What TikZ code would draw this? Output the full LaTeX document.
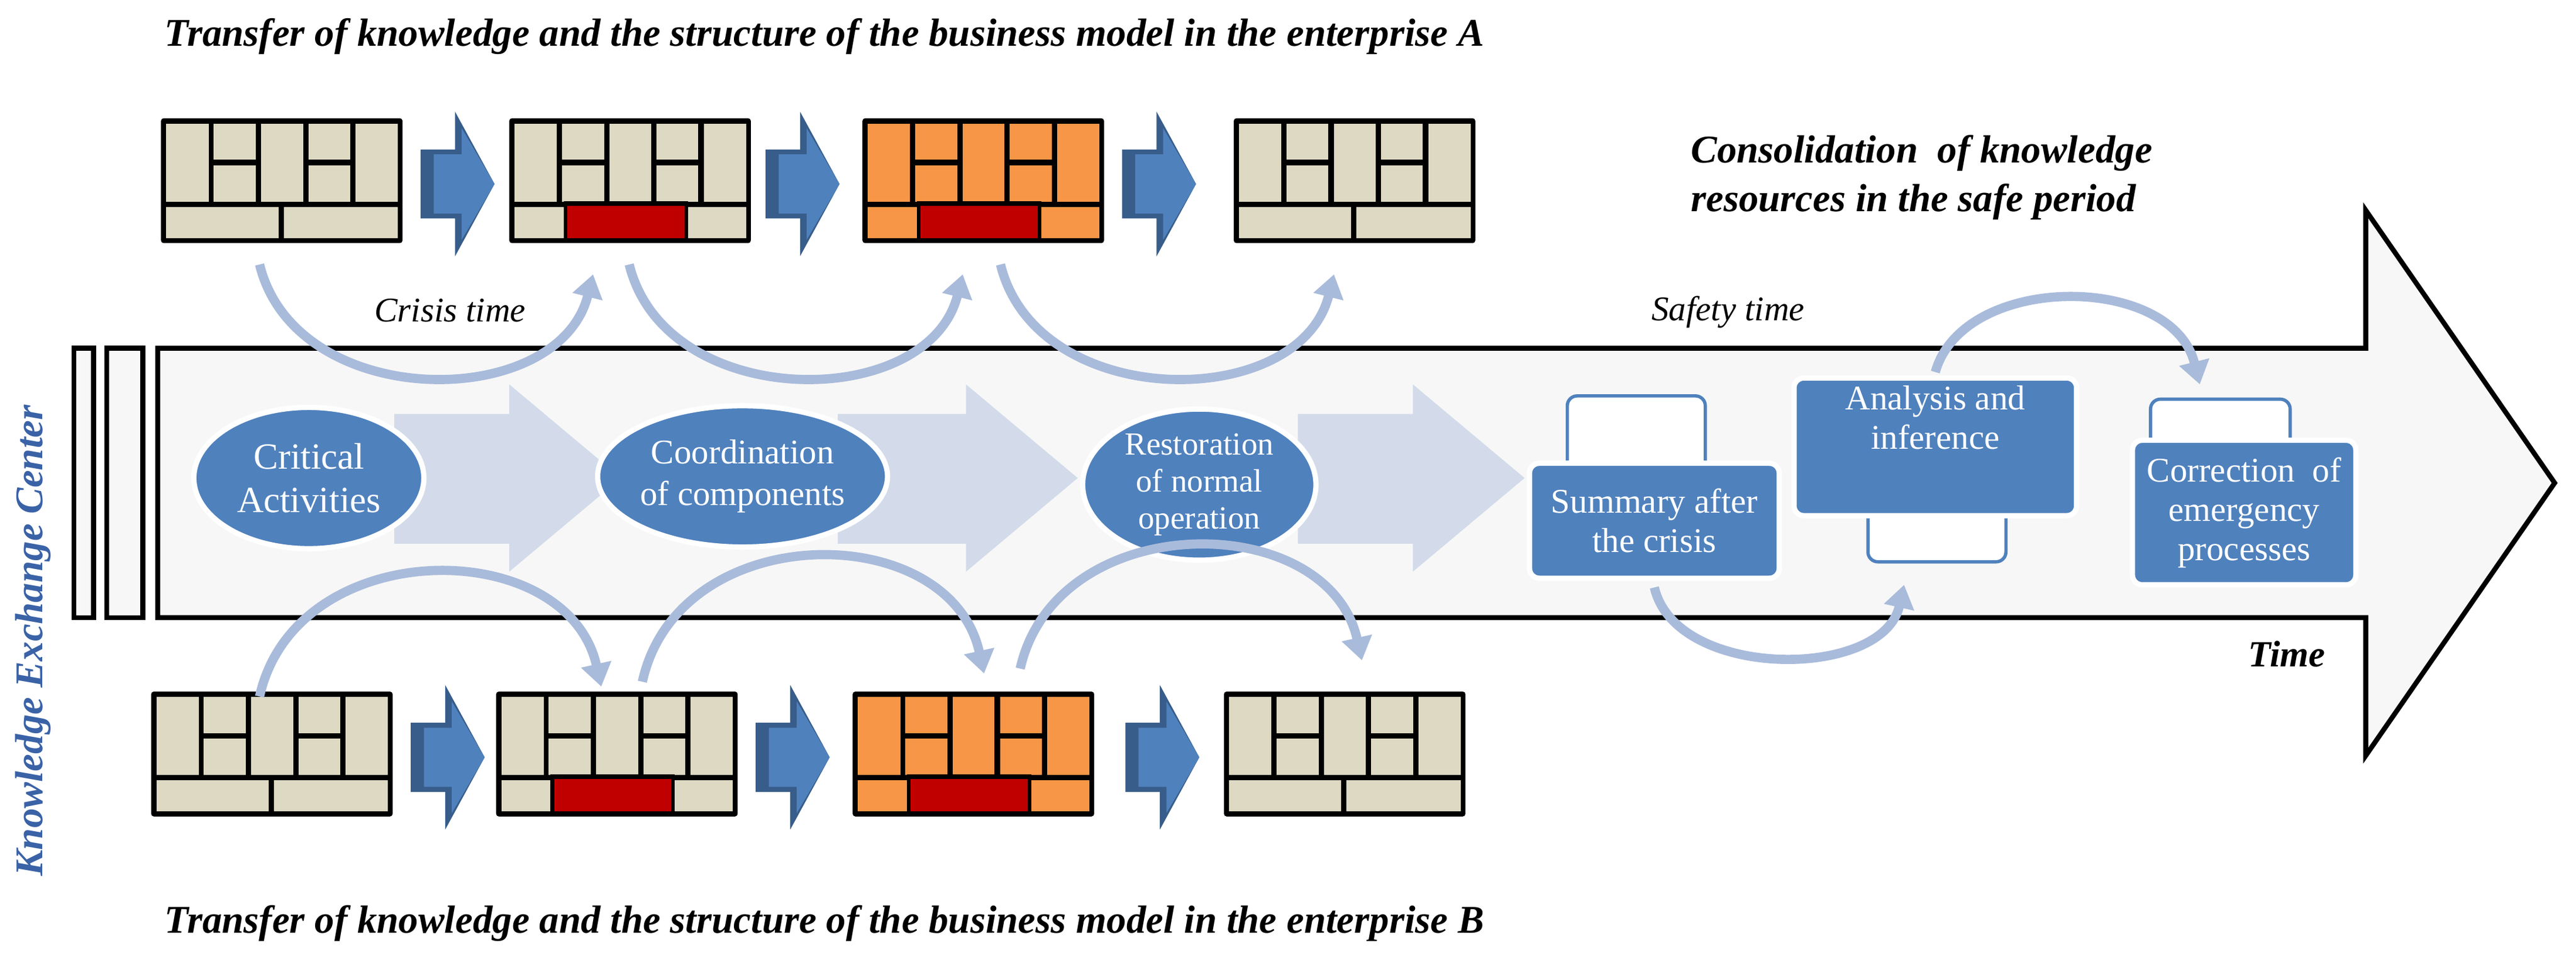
\documentclass[tikz,border=0pt]{standalone}
\usepackage{fontspec}
\setmainfont{Liberation Serif}
\usetikzlibrary{arrows.meta,shapes.geometric}
\definecolor{beige}{HTML}{DDD9C3}
\definecolor{orng}{HTML}{F79646}
\definecolor{redb}{HTML}{C00000}
\definecolor{mblue}{HTML}{4F81BD}
\definecolor{dblue}{HTML}{385D8A}
\definecolor{chev}{HTML}{D3DBEA}
\definecolor{arcc}{HTML}{A9BBDB}
\definecolor{kec}{HTML}{3A62A6}
\newcommand\bmcanvas[5]{%
 \begin{scope}[shift={(#1,#2)},x=36.75mm,y=-19mm]
  \fill[black,rounded corners=0.4mm] (0,0) rectangle (1,1);
  \foreach \a/\b/\c/\d in {0.022/0.042/0.197/0.667, 0.218/0.042/0.392/0.333, 0.218/0.377/0.392/0.667,
     0.414/0.042/0.588/0.667, 0.610/0.042/0.783/0.333, 0.610/0.377/0.783/0.667, 0.805/0.042/0.980/0.667,
     0.022/0.711/0.486/0.961, 0.508/0.711/0.980/0.961}
   \fill[#3] (\a,\b) rectangle (\c,\d);
  \ifnum#4=1
   \fill[black] (0.225,0.665) rectangle (0.74,0.975);
   \fill[redb] (0.24,0.70) rectangle (0.725,0.96);
  \fi
  \coordinate (#5) at (0.5,0.5);
 \end{scope}}
\newcommand\blockarrow[2]{%
 \fill[dblue] (#1,#2-21) -- (#1+21,#2-21) -- (#1+21,#2-44) -- (#1+45,#2) -- (#1+21,#2+44) -- (#1+21,#2+21) -- (#1,#2+21) -- cycle;
 \fill[mblue] (#1+8,#2-18) -- (#1+25,#2-18) -- (#1+25,#2-34) -- (#1+45,#2) -- (#1+25,#2+34) -- (#1+25,#2+18) -- (#1+8,#2+18) -- cycle;}
\newcommand\chevron[4]{% bodystart headstart tip name
 \fill[chev] (#1,252) -- (#2,252) -- (#2,234) -- (#3,291) -- (#2,348) -- (#2,331) -- (#1,331) -- cycle;
 \coordinate (#4) at (#3,291);}
\begin{document}
\begin{tikzpicture}[x=0.25mm,y=-0.25mm,
  ttl/.style={font=\fontsize{17}{20}\selectfont\bfseries\itshape,anchor=west,inner sep=0},
  ell/.style={ellipse,fill=mblue,draw=white,line width=0.8mm,text=white,align=center,inner sep=0},
  box/.style={rounded corners=1.5mm,fill=mblue,draw=white,line width=0.8mm,text=white,align=center,font=\fontsize{15}{17}\selectfont},
  frm/.style={rounded corners=1.5mm,fill=white,draw=mblue,line width=0.5mm},
  arc/.style={draw=arcc,line width=1.4mm,-{Triangle[length=3.5mm,width=4.5mm]}}]
\useasboundingbox (0,0) rectangle (1568,581);
% titles
\node[ttl] (tA) at (100,22) {Transfer of knowledge and the structure of the business model in the enterprise A};
\node[ttl] (tB) at (100,582-20) {Transfer of knowledge and the structure of the business model in the enterprise B};
\node[font=\fontsize{17}{21}\selectfont\bfseries\itshape,align=left,anchor=west,inner sep=0] (cons) at (1029,108) {Consolidation\ \ of knowledge\\resources in the safe period};
\node[rotate=90,font=\fontsize{17}{20}\selectfont\bfseries\itshape,text=kec,inner sep=0] (kec) at (20,390) {Knowledge Exchange Center};
% big arrow
\draw[line width=0.75mm,fill=white!97!black] (45,212) rectangle (57,376);
\draw[line width=0.75mm,fill=white!97!black] (65,212) rectangle (87,376);
\draw[line width=0.75mm,fill=white!97!black,line join=miter] (96,212) -- (1440,212) -- (1440,128) -- (1555,294) -- (1440,460) -- (1440,376) -- (96,376) -- cycle;
\node[font=\fontsize{15}{18}\selectfont\itshape,inner sep=0] (crisis) at (274,189) {Crisis time};
\node[font=\fontsize{15}{18}\selectfont\itshape,inner sep=0,anchor=west] (safety) at (1005,190) {Safety time};
\node[font=\fontsize{16}{18}\selectfont\bfseries\itshape,inner sep=0] (time) at (1392,398) {Time};
% chevrons
\chevron{240}{310}{378}{ch1}
\chevron{510}{588}{656}{ch2}
\chevron{790}{860}{928}{ch3}
\node[ell,minimum width=140\pgflinewidth/0.8,minimum width=35mm,minimum height=21.5mm,font=\fontsize{16}{19}\selectfont] (crit) at (188,291) {Critical\\Activities};
\node[ell,minimum width=37.5mm,minimum height=21.5mm,font=\fontsize{15}{18}\selectfont] (coord) at (452,290) {Coordination\\of components};
\node[ell,minimum width=35.5mm,minimum height=23mm,font=\fontsize{14}{16}\selectfont] (rest) at (730,295) {Restoration\\of normal\\operation};
% right boxes
\draw[frm] (954,241) rectangle (1038,300);
\draw[frm] (1137,290) rectangle (1221,342);
\draw[frm] (1309,243) rectangle (1394,290);
\node[box,minimum width=38mm,minimum height=17.5mm] (summ) at (1007,317) {Summary after\\the crisis};
\node[box,minimum width=43mm,minimum height=18.75mm] (anal) at (1178,272) {Analysis and\\inference\\[3mm]};
\node[box,minimum width=34mm,minimum height=22mm] (corr) at (1366,312) {Correction\ \ of\\emergency\\processes};
% canvases top
\bmcanvas{98}{72}{beige}{0}{a1}
\bmcanvas{310}{72}{beige}{1}{a2}
\bmcanvas{525}{72}{orng}{1}{a3}
\bmcanvas{751}{72}{beige}{0}{a4}
\blockarrow{256}{112}
\blockarrow{466}{112}
\blockarrow{683}{112}
% canvases bottom
\bmcanvas{92}{421}{beige}{0}{b1}
\bmcanvas{302}{421}{beige}{1}{b2}
\bmcanvas{519}{421}{orng}{1}{b3}
\bmcanvas{745}{421}{beige}{0}{b4}
\blockarrow{250}{461}
\blockarrow{460}{461}
\blockarrow{685}{461}
% arcs top
\coordinate (ta1) at (158,161); \coordinate (te1) at (361,167);
\coordinate (ta2) at (383,161); \coordinate (te2) at (586,167);
\coordinate (ta3) at (609,161); \coordinate (te3) at (812,167);
\draw[arc] (ta1) .. controls (180,251) and (340,251) .. (te1);
\draw[arc] (ta2) .. controls (405,251) and (565,251) .. (te2);
\draw[arc] (ta3) .. controls (631,251) and (791,251) .. (te3);
% arcs bottom
\coordinate (ba1) at (158,424); \coordinate (be1) at (366,418);
\coordinate (ba2) at (391,415); \coordinate (be2) at (599,410);
\coordinate (ba3) at (621,407); \coordinate (be3) at (829,402);
\draw[arc] (ba1) .. controls (180,325) and (345,325) .. (be1);
\draw[arc] (ba2) .. controls (413,315) and (578,315) .. (be2);
\draw[arc] (ba3) .. controls (643,309) and (808,309) .. (be3);
% safety arcs
\draw[arc] (anal.north) ++(0,-2) .. controls (1195,166) and (1322,166) .. (1339,234);
\draw[arc] (summ.south) ++(0,4) .. controls (1020,414) and (1146,414) .. (1159,356);
\end{tikzpicture}
\end{document}
